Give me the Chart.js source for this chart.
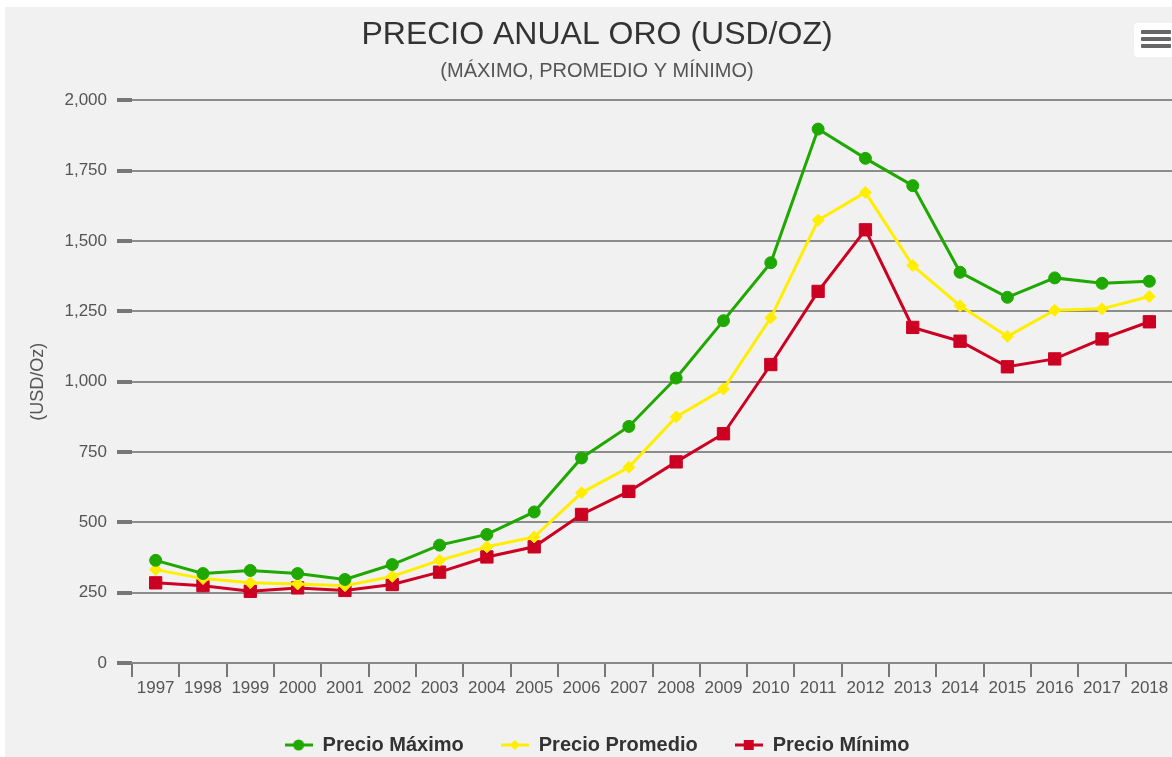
<!DOCTYPE html>
<html lang="es">
<head>
<meta charset="UTF-8">
<title>Precio anual oro</title>
<script src="https://cdn.jsdelivr.net/npm/chart.js"></script>
<style>
  html, body { margin: 0; padding: 0; background: #fff; overflow: hidden; width: 1172px; height: 757px; }
  #wrap { position: absolute; left: 5px; top: 7px; width: 1180px; height: 758px; background: #f1f1f1; }
  #menu { position: absolute; left: 1129px; top: 16px; width: 50px; height: 34px; background: #fff; border-radius: 4px; }
  #menu span { position: absolute; left: 7px; width: 30px; height: 4px; background: #666; border-radius: 1px; }
</style>
</head>
<body>
<div id="wrap">
  <canvas id="chart"></canvas>
  <div id="menu"><span style="top:7px"></span><span style="top:14px"></span><span style="top:21px"></span></div>
</div>
<script>
// values (USD/oz)
const years = ['1997', '1998', '1999', '2000', '2001', '2002', '2003', '2004', '2005', '2006', '2007',
  '2008', '2009', '2010', '2011', '2012', '2013', '2014', '2015', '2016', '2017', '2018'];
const maxPrice = [365, 318, 329, 318, 297, 350, 419, 457, 537, 729, 841,
  1013, 1217, 1423, 1898, 1794, 1697, 1389, 1300, 1369, 1350, 1357];
const avgPrice = [332, 300, 285, 281, 275, 308, 365, 413, 448, 605, 696,
  875, 974, 1227, 1574, 1673, 1413, 1270, 1161, 1254, 1259, 1303];
const minPrice = [285, 275, 255, 267, 258, 279, 323, 377, 413, 528, 610,
  715, 815, 1061, 1321, 1540, 1193, 1144, 1053, 1081, 1152, 1213];

const GREEN = '#1fa800', YELLOW = '#ffee00', RED = '#cc0022';

Chart.defaults.font.family = '"Liberation Sans", Arial, sans-serif';

// legend symbol: a short line with the marker on it
function legendIcon(color, shape) {
  const c = document.createElement('canvas');
  c.width = 28; c.height = 20;
  const g = c.getContext('2d');
  g.strokeStyle = color; g.fillStyle = color; g.lineWidth = 3;
  g.beginPath(); g.moveTo(0, 10); g.lineTo(28, 10); g.stroke();
  g.beginPath();
  if (shape === 'circle') g.arc(14, 10, 5.5, 0, Math.PI * 2);
  else if (shape === 'diamond') { g.moveTo(14, 5); g.lineTo(19, 10); g.lineTo(14, 15); g.lineTo(9, 10); g.closePath(); }
  else g.rect(9, 5, 10, 10);
  g.fill();
  return c;
}
const icons = [legendIcon(GREEN, 'circle'), legendIcon(YELLOW, 'diamond'), legendIcon(RED, 'square')];

new Chart(document.getElementById('chart'), {
  type: 'line',
  data: {
    labels: years,
    datasets: [
      { label: 'Precio Máximo', data: maxPrice, borderColor: GREEN, backgroundColor: GREEN,
        pointStyle: 'circle', pointRadius: 6, pointHoverRadius: 6, borderWidth: 3, pointBorderWidth: 1 },
      { label: 'Precio Promedio', data: avgPrice, borderColor: YELLOW, backgroundColor: YELLOW,
        pointStyle: 'rectRot', pointRadius: 6, pointHoverRadius: 6, borderWidth: 3, pointBorderWidth: 1 },
      { label: 'Precio Mínimo', data: minPrice, borderColor: RED, backgroundColor: RED,
        pointStyle: 'rect', pointRadius: 8.7, pointHoverRadius: 8.7, borderWidth: 3, pointBorderWidth: 1 }
    ]
  },
  options: {
    responsive: true,
    maintainAspectRatio: false,
    animation: false,
    layout: { padding: { left: 16, right: 12, top: 0, bottom: 0 } },
    plugins: {
      title: {
        display: true,
        text: 'PRECIO ANUAL ORO (USD/OZ)',
        color: '#333',
        font: { size: 32, weight: 'normal' },
        padding: { top: 9, bottom: 0 }
      },
      subtitle: {
        display: true,
        text: '(MÁXIMO, PROMEDIO Y MÍNIMO)',
        color: '#555',
        font: { size: 20 },
        padding: { top: 5, bottom: 17 }
      },
      legend: {
        position: 'bottom',
        labels: {
          color: '#333',
          font: { size: 20, weight: 'bold' },
          usePointStyle: true,
          pointStyleWidth: 28,
          padding: 37,
          generateLabels: chart => chart.data.datasets.map((ds, i) => ({
            text: ds.label, pointStyle: icons[i], datasetIndex: i,
            hidden: !chart.isDatasetVisible(i), lineWidth: 0, fontColor: '#333'
          }))
        }
      },
      tooltip: { enabled: false }
    },
    scales: {
      x: {
        offset: true,
        grid: { display: true, offset: true, drawOnChartArea: false, drawTicks: true,
          tickLength: 14, color: '#777', lineWidth: 2 },
        border: { display: true, color: '#888', width: 2 },
        ticks: { color: '#555', font: { size: 17 }, padding: 1, maxRotation: 0, autoSkip: false },
        afterFit: s => { s.height = 35; }
      },
      y: {
        min: 0,
        max: 2000,
        ticks: { stepSize: 250, color: '#555', font: { size: 17 }, padding: 10 },
        grid: { color: '#8c8c8c', lineWidth: 2, tickLength: 15, tickColor: '#777', tickWidth: 4 },
        border: { display: false },
        title: { display: true, text: '(USD/Oz)', color: '#555', font: { size: 18 }, padding: { top: 6, bottom: 0 } },
        afterFit: s => { s.width = 111; }
      }
    }
  }
});
</script>
</body>
</html>
